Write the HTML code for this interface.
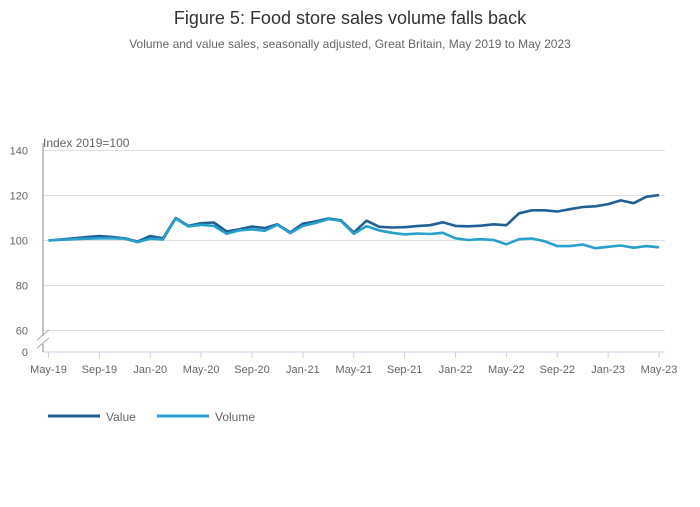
<!DOCTYPE html>
<html><head><meta charset="utf-8"><style>
body{margin:0;background:#fff;font-family:"Liberation Sans",sans-serif}
svg text{font-family:"Liberation Sans",sans-serif}
</style></head><body>
<svg width="700" height="502" viewBox="0 0 700 502">
<text x="350" y="24" text-anchor="middle" font-size="18" fill="#333">Figure 5: Food store sales volume falls back</text>
<text x="350" y="48" text-anchor="middle" font-size="12" fill="#666">Volume and value sales, seasonally adjusted, Great Britain, May 2019 to May 2023</text>
<text x="43" y="147" font-size="12" fill="#666">Index 2019=100</text>
<g id="grid"></g><g id="axes"></g><g id="series"></g>
<g>
<line x1="48" y1="416" x2="100" y2="416" stroke="#206095" stroke-width="3"/>
<text x="106" y="421" font-size="12" fill="#666">Value</text>
<line x1="157" y1="416" x2="209" y2="416" stroke="#27a0cc" stroke-width="3"/>
<text x="215" y="421" font-size="12" fill="#666">Volume</text>
</g>
</svg>
<script>
const months=["May-19","Jun-19","Jul-19","Aug-19","Sep-19","Oct-19","Nov-19","Dec-19","Jan-20","Feb-20","Mar-20","Apr-20","May-20","Jun-20","Jul-20","Aug-20","Sep-20","Oct-20","Nov-20","Dec-20","Jan-21","Feb-21","Mar-21","Apr-21","May-21","Jun-21","Jul-21","Aug-21","Sep-21","Oct-21","Nov-21","Dec-21","Jan-22","Feb-22","Mar-22","Apr-22","May-22","Jun-22","Jul-22","Aug-22","Sep-22","Oct-22","Nov-22","Dec-22","Jan-23","Feb-23","Mar-23","Apr-23","May-23"];
const valueSeries=[100,100.5,101,101.5,102,101.5,101,99.5,102,101,110,106.5,107.7,108,104,105,106.2,105.5,107.2,103.6,107.5,108.5,109.8,109,103.5,108.8,106.1,105.8,105.9,106.4,106.8,108.1,106.5,106.3,106.6,107.2,106.8,112.1,113.4,113.4,112.9,113.9,114.9,115.2,116.2,117.8,116.6,119.4,120.2];
const volumeSeries=[100,100.3,100.6,100.8,101,101,100.8,99.3,100.8,100.5,109.8,106.2,107,106.5,103,104.5,105,104.3,107,103.3,106.5,107.8,109.5,108.7,103,106.4,104.5,103.4,102.7,103.1,102.9,103.4,101,100.2,100.6,100.2,98.3,100.6,100.9,99.7,97.5,97.5,98.2,96.6,97.2,97.8,96.8,97.5,97];
const yTicks=[60,80,100,120,140];
const xTickIdx=[0,4,8,12,16,20,24,28,32,36,40,44,48];
const NS="http://www.w3.org/2000/svg";
const X=i=>48.5+i*(610.5/48);
const Y=v=>240.5-(v-100)*2.25;
function mk(t,a,p){const e=document.createElementNS(NS,t);for(const k in a)e.setAttribute(k,a[k]);p.appendChild(e);return e;}
const grid=document.getElementById('grid'),axes=document.getElementById('axes'),ser=document.getElementById('series');
yTicks.forEach(v=>{
 const l=mk('line',{x1:43,x2:665,y1:Y(v),y2:Y(v),stroke:'#e0e0e0'},grid);
 
 
 const t=mk('text',{x:28,y:Y(v)+4,'text-anchor':'end','font-size':11,fill:'#666'},axes);t.textContent=v;
 
 
});
const z=mk('text',{x:28,y:356,'text-anchor':'end','font-size':11,fill:'#666'},axes);z.textContent='0';


mk('line',{x1:43,x2:665,y1:352,y2:352,stroke:'#c8d4e8'},axes);
mk('path',{d:'M43 143 V336 M43 344 V352',stroke:'#888',fill:'none'},axes);
mk('path',{d:'M37 340 L49 330 M37 348 L49 338',stroke:'#aaa',fill:'none'},axes);
xTickIdx.forEach(i=>{
 mk('line',{x1:X(i),x2:X(i),y1:352,y2:358,stroke:'#c8d4e8'},axes);
 const t=mk('text',{x:X(i),y:373,'text-anchor':'middle','font-size':11,fill:'#666'},axes);t.textContent=months[i];
 
 
});
function line(data,col,name){
 const p=mk('path',{d:data.map((v,i)=>(i?'L':'M')+X(i).toFixed(1)+' '+Y(v).toFixed(1)).join(''),stroke:col,'stroke-width':2.6,fill:'none','stroke-linejoin':'round'},ser);
 
 
}
line(valueSeries,'#206095','value-line');
line(volumeSeries,'#27a0cc','volume-line');
</script>
</body></html>
